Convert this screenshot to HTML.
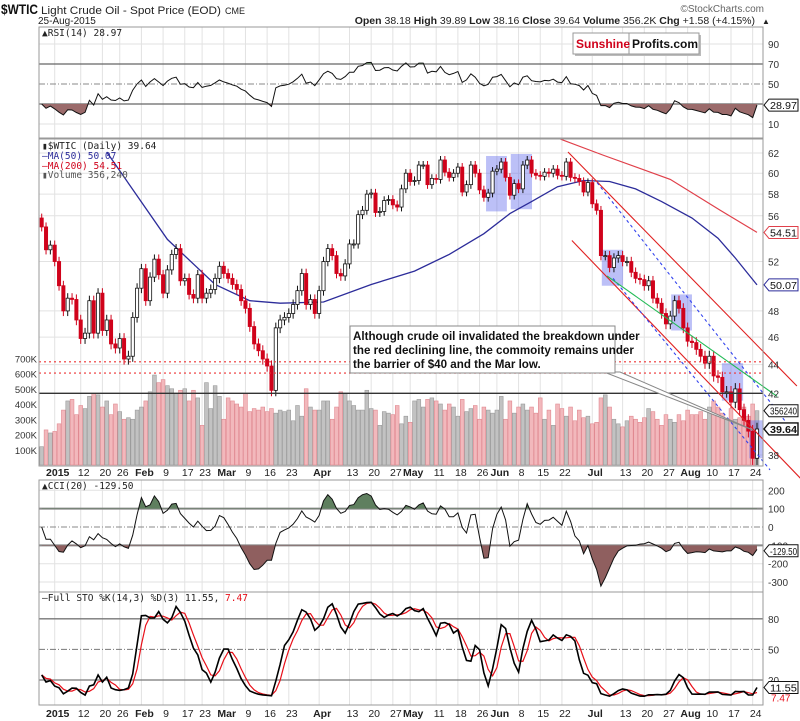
<!DOCTYPE html>
<html><head><meta charset="utf-8"><style>
html,body{margin:0;padding:0;background:#fff;}
svg{display:block;font-family:"Liberation Sans",sans-serif;}
.mono{font-family:"DejaVu Sans Mono","Liberation Mono",monospace;}
</style></head><body>
<svg id="chart" width="800" height="721" viewBox="0 0 800 721">
<defs>
<clipPath id="clipRsiLow"><rect x="39" y="104" width="724" height="34"/></clipPath>
<clipPath id="clipRsiHigh"><rect x="39" y="27" width="724" height="37"/></clipPath>
<clipPath id="clipPrice"><rect x="39" y="139" width="724" height="327"/></clipPath>
<clipPath id="clipCciHigh"><rect x="39" y="480" width="724" height="29"/></clipPath>
<clipPath id="clipCciLow"><rect x="39" y="545" width="724" height="47"/></clipPath>
</defs>
<g id="grid"></g>
<g id="vol" clip-path="url(#clipPrice)"></g>
<g id="price" clip-path="url(#clipPrice)"></g>
<g id="ann"></g>
<g id="ind"></g>
<g id="axes"></g>
<g id="hdr">
<text x="1" y="14" font-size="14" font-weight="bold" fill="#111" textLength="37" lengthAdjust="spacingAndGlyphs">$WTIC</text>
<text x="41" y="14" font-size="11" fill="#222" textLength="180" lengthAdjust="spacingAndGlyphs">Light Crude Oil - Spot Price (EOD)</text>
<text x="225" y="14" font-size="9" fill="#222">CME</text>
<text x="38" y="24" font-size="10" fill="#222">25-Aug-2015</text>
<text x="755" y="24" font-size="10.5" fill="#222" text-anchor="end"><tspan font-weight="bold">Open</tspan> 38.18 <tspan font-weight="bold">High</tspan> 39.89 <tspan font-weight="bold">Low</tspan> 38.16 <tspan font-weight="bold">Close</tspan> 39.64 <tspan font-weight="bold">Volume</tspan> 356.2K <tspan font-weight="bold">Chg</tspan> +1.58 (+4.15%)</text>
<text x="762" y="24" font-size="8" fill="#222">▲</text>
<text x="764" y="12" font-size="10" fill="#666" text-anchor="end">©StockCharts.com</text>
</g>
<g>
<rect x="575" y="35" width="126" height="21" fill="#bbb"/>
<rect x="573" y="33" width="126" height="21" fill="#fff" stroke="#999"/>
<line x1="629" y1="33" x2="629" y2="54" stroke="#999"/>
<text x="576" y="48" font-size="12" font-weight="bold" fill="#d0021b">Sunshine</text>
<text x="632" y="48" font-size="12" font-weight="bold" fill="#111">Profits.com</text>
</g>
</svg>
<script>
const closes=[55.0,53.0,53.4,52.0,50.0,48.0,49.0,48.9,47.3,45.9,46.3,48.8,46.3,49.4,46.5,47.3,45.5,45.2,45.9,44.4,44.6,47.5,49.8,51.4,48.8,50.7,52.2,50.9,49.4,51.3,52.6,53.1,50.4,50.6,49.3,49.0,50.9,49.0,49.4,49.7,50.6,51.6,51.0,50.6,50.1,49.7,48.8,48.2,46.8,45.5,45.0,44.4,43.9,42.2,46.7,47.3,47.5,47.8,
48.5,49.6,51.0,48.5,48.9,47.8,49.6,52.0,53.1,52.5,51.0,50.8,51.8,53.5,53.5,56.1,56.5,58.0,58.1,56.3,56.4,57.4,57.5,57.0,56.8,58.5,60.0,59.2,59.3,60.8,60.8,58.9,59.5,59.4,61.3,60.1,59.6,60.0,60.6,58.2,58.9,60.8,60.0,58.4,57.7,58.1,60.2,60.4,61.1,59.6,57.9,59.0,58.5,60.8,61.3,
60.0,59.8,59.7,60.1,60.0,60.4,59.8,59.7,61.1,59.6,59.5,59.2,58.2,59.1,57.1,56.5,52.5,52.5,51.5,52.3,52.5,52.0,52.0,51.1,50.6,50.5,50.0,50.4,49.0,48.6,47.8,47.0,47.6,48.8,48.2,46.7,45.7,45.6,45.1,44.6,44.1,44.6,43.2,43.1,42.1,42.1,41.4,42.3,40.9,40.2,39.5,37.8,39.64];
const volumesK=[120,230,210,220,270,360,420,430,330,390,370,450,470,460,380,420,330,400,350,300,310,300,360,
380,420,480,590,540,560,520,500,470,490,500,420,490,440,260,540,370,520,450,
300,440,420,400,380,470,350,370,360,380,350,370,340,360,350,360,290,390,320,500,380,360,
360,420,420,300,380,480,470,420,390,360,360,490,370,360,260,350,340,330,390,270,320,
280,420,430,380,430,440,420,400,360,400,380,320,430,350,370,390,300,380,360,340,
360,450,300,420,340,380,400,360,380,340,440,300,360,260,400,370,320,380,290,360,310,320,
270,280,440,460,380,300,270,250,290,320,300,280,310,370,350,300,260,330,300,280,330,290,
360,330,330,350,300,380,420,380,340,300,370,300,310,380,320,400,356];
const ma50Days=[15,29,40,48,55,65,76,86,94,102,108,113,119,125,131,137,143,150,156,160,165];
const ma50Vals=[62.1,53.9,50.1,48.8,48.6,48.7,50.1,51.2,52.6,54.4,56.2,57.3,58.7,59.3,59.2,58.5,57.3,55.8,54.0,52.3,50.07];
const ma200Days=[119.7,129.4,145,156.5,165];
const ma200Vals=[63.4,61.8,59.4,56.5,54.51];
const tickDates=['2015-01-02','2015-01-12','2015-01-20','2015-01-26','2015-02-02','2015-02-09','2015-02-17','2015-02-23','2015-03-02','2015-03-09','2015-03-16','2015-03-23','2015-04-01','2015-04-13','2015-04-20','2015-04-27','2015-05-01','2015-05-11','2015-05-18','2015-05-26','2015-06-01','2015-06-08','2015-06-15','2015-06-22','2015-07-01','2015-07-13','2015-07-20','2015-07-27','2015-08-03','2015-08-10','2015-08-17','2015-08-24'];
const tickLabels=['2015','12','20','26','Feb','9','17','23','Mar','9','16','23','Apr','13','20','27','May','11','18','26','Jun','8','15','22','Jul','13','20','27','Aug','10','17','24'];
const holidays=['2015-01-01','2015-01-19','2015-02-16','2015-04-03','2015-05-25','2015-07-03'];
const priceTicks=[62,60,58,56,52,48,46,44,42,38];
const volTicksK=[700,600,500,400,300,200,100];
const rsiTicks=[90,70,50,10];
const cciTicks=[200,100,0,-100,-200,-300];
const stoTicks=[80,50,20];
const highlightBoxes=[[102.5,107.3,61.7,56.4],[108.2,113.1,61.9,56.6],[129.2,134.1,53.0,50.0],[145.2,150.0,49.3,46.5],[156.9,161.8,44.1,41.5],[163.2,168.1,40.2,37.8]];
const trendRedUpper=[[121.4,62.1],[174.2,42.5]];
const trendRedLower=[[122.3,53.8],[175,36.6]];
const trendBlueUpper=[[128.1,59.1],[172.2,39.9]];
const trendBlueLower=[[131.8,50.6],[168.0,37.1]];
const trendGreen=[[130.4,50.8],[169.6,41.8]];
const supportLevels=[44.2,43.4];
const marchLow=42.0;

const NS='http://www.w3.org/2000/svg';
const N=closes.length;
const step=(757-41.7)/(N-1);
function xOf(i){return 41.7+i*step;}
function yP(p){return 153+Math.log(62/p)*617;}
function yV(k){return 465-k*0.1525;}
function yR(v){return 134-v;}
function yC(v){return 527-v*0.1835;}
function yS(v){return 680-(v-20)*1.02;}
function mk(tag,attrs,parent){const e=document.createElementNS(NS,tag);for(const k in attrs)e.setAttribute(k,attrs[k]);parent.appendChild(e);return e;}
const gGrid=document.getElementById('grid'),gVol=document.getElementById('vol'),gPrice=document.getElementById('price'),gAnn=document.getElementById('ann'),gInd=document.getElementById('ind'),gAxes=document.getElementById('axes');

const dates=[];
{let d=new Date(Date.UTC(2014,11,29));
while(dates.length<N){const s=d.toISOString().slice(0,10);const w=d.getUTCDay();if(w!==0&&w!==6&&holidays.indexOf(s)<0)dates.push(s);d=new Date(d.getTime()+86400000);}}
function idxOf(s){let i=dates.indexOf(s);if(i<0){i=dates.findIndex(x=>x>s);}return i;}

const panels=[[27,138],[139,466],[480,592],[592,705]];
panels.forEach(function(p){
  const r=mk('rect',{x:39,y:p[0],width:724,height:p[1]-p[0],fill:'none',stroke:'#999'},gAxes);
  
  
});
tickDates.forEach(function(d,k){
  const x=xOf(idxOf(d));
  panels.forEach(function(p){
    const l=mk('line',{x1:x,x2:x,y1:p[0],y2:p[1],stroke:'#e2e2e2'},gGrid);
    
    
  });
  [476,717].forEach(function(yy){
    const t=mk('text',{x:x+3,y:yy,'font-size':10.5,'text-anchor':'middle',fill:'#222','font-weight':(isNaN(+tickLabels[k])||tickLabels[k]==='2015')?'bold':'normal'},gAxes);
    t.textContent=tickLabels[k];
    
    
  });
});
priceTicks.forEach(function(p){
  const y=yP(p);
  const l=mk('line',{x1:39,x2:763,y1:y,y2:y,stroke:'#e2e2e2'},gGrid);
  
  
  const t=mk('text',{x:768,y:y+4,'font-size':10,fill:'#333'},gAxes);
  t.textContent=p;
  
  
});
volTicksK.forEach(function(v){
  const t=mk('text',{x:37,y:yV(v)+4,'font-size':9.5,'text-anchor':'end',fill:'#333'},gAxes);
  t.textContent=v+'K';
  
  
});
rsiTicks.concat([30]).forEach(function(v){
  const y=yR(v);
  const l=mk('line',{x1:39,x2:763,y1:y,y2:y,stroke:(v===70||v===30)?'#666':(v===50?'#888':'#e2e2e2'),'stroke-dasharray':v===50?'6,2,1,2':'none','stroke-width':(v===70||v===30)?1.2:1},gGrid);
  
  
  if(v!==30){const t=mk('text',{x:768,y:y+4,'font-size':10,fill:'#333'},gAxes);t.textContent=v;
  
  }
});
cciTicks.forEach(function(v){
  const y=yC(v);
  const strong=(v===100||v===-100);
  const l=mk('line',{x1:39,x2:763,y1:y,y2:y,stroke:strong?'#888':(v===0?'#888':'#e2e2e2'),'stroke-width':strong?2:1,'stroke-dasharray':v===0?'6,2,1,2':'none'},gGrid);
  
  
  const t=mk('text',{x:768,y:y+4,'font-size':10,fill:'#333'},gAxes);t.textContent=v;
  
  
});
stoTicks.forEach(function(v){
  const y=yS(v);
  const l=mk('line',{x1:39,x2:763,y1:y,y2:y,stroke:'#777','stroke-width':v===50?1:1.3,'stroke-dasharray':v===50?'6,2,1,2':'none'},gGrid);
  
  
  const t=mk('text',{x:768,y:y+4,'font-size':10,fill:'#333'},gAxes);t.textContent=v;
  
  
});

const opens=closes.map((c,i)=>i===0?55.8:closes[i-1]);
const highs=closes.map((c,i)=>Math.max(c,opens[i])+0.4);
const lows=closes.map((c,i)=>Math.min(c,opens[i])-0.4);

volumesK.forEach(function(v,i){
  const down=i>0&&closes[i]<closes[i-1];
  const b=mk('rect',{x:xOf(i)-1.9,y:yV(v),width:3.8,height:465-yV(v),fill:down?'#f2b8bc':'#c2c2c2',stroke:down?'#e08890':'#9a9a9a','stroke-width':0.6},gVol);
  
  
});
supportLevels.forEach(function(p){
  const l=mk('line',{x1:39,x2:763,y1:yP(p),y2:yP(p),stroke:'#e33','stroke-dasharray':'2,3','stroke-width':1.2},gAnn);
  
  
});
{const l=mk('line',{x1:39,x2:763,y1:yP(marchLow),y2:yP(marchLow),stroke:'#333','stroke-width':1.4},gAnn);

}

highlightBoxes.forEach(function(b){
  const r=mk('rect',{x:xOf(b[0]),y:yP(b[2]),width:xOf(b[1])-xOf(b[0]),height:yP(b[3])-yP(b[2]),fill:'rgba(95,105,235,0.42)'},gPrice);
  
  
});
function polyFrom(days,vals){return days.map((d,k)=>xOf(d).toFixed(1)+','+yP(vals[k]).toFixed(1)).join(' ');}
{const m=mk('polyline',{points:polyFrom(ma50Days,ma50Vals),fill:'none',stroke:'#2c2c9a','stroke-width':1.3},gPrice);


const m2=mk('polyline',{points:polyFrom(ma200Days,ma200Vals),fill:'none',stroke:'#e0404a','stroke-width':1.2},gPrice);

}
closes.forEach(function(c,i){
  const o=opens[i],x=xOf(i);
  const down=c<o;
  const col=down?'#d0021b':'#111';
  const w=mk('line',{x1:x,x2:x,y1:yP(highs[i]),y2:yP(lows[i]),stroke:col,'stroke-width':1},gPrice);
  
  
  const top=yP(Math.max(o,c)),bot=yP(Math.min(o,c));
  const b=mk('rect',{x:x-1.6,y:top,width:3.2,height:Math.max(1,bot-top),fill:down?'#d0021b':'#fff',stroke:col,'stroke-width':0.8},gPrice);
  
  
});
[[trendRedUpper,'#e02020','none','trend-line-upper'],[trendRedLower,'#e02020','none','trend-line-lower'],[trendBlueUpper,'#3344ee','3,3','trend-line-blue-upper'],[trendBlueLower,'#3344ee','3,3','trend-line-blue-lower'],[trendGreen,'#22bb55','none','trend-line-green']].forEach(function(t){
  const l=mk('line',{x1:xOf(t[0][0][0]),y1:yP(t[0][0][1]),x2:xOf(t[0][1][0]),y2:yP(t[0][1][1]),stroke:t[1],'stroke-dasharray':t[2],'stroke-width':1.1},gAnn);
  
  
});
{const pnt=mk('polygon',{points:'604,372 620,372 753,430',fill:'#fff',stroke:'#888','stroke-width':1},gAnn);


const box=mk('rect',{x:350,y:326,width:265,height:47,fill:'#fff',stroke:'#888'},gAnn);


const lines=['Although crude oil invalidated the breakdown under','the red declining line, the commoity remains under','the barrier of $40 and the Mar low.'];
lines.forEach(function(s,k){const t=mk('text',{x:353,y:340+k*14,'font-size':11.6,'font-weight':'bold',fill:'#111'},gAnn);t.textContent=s;

});}

const rsi=[];{let ag=0.3,al=0.7;for(let i=0;i<N;i++){const ch=i===0?0:closes[i]-closes[i-1];ag=(ag*13+Math.max(ch,0))/14;al=(al*13+Math.max(-ch,0))/14;rsi.push(100-100/(1+ag/al));}}
const cci=[];{const tp=closes.map((c,i)=>(highs[i]+lows[i]+c)/3);for(let i=0;i<N;i++){const s=Math.max(0,i-19);const win=tp.slice(s,i+1);const m=win.reduce((a,b)=>a+b,0)/win.length;const md=win.reduce((a,b)=>a+Math.abs(b-m),0)/win.length||1;cci.push(Math.max(-330,Math.min(260,(tp[i]-m)/(0.015*md))));}}
const fastK=[];for(let i=0;i<N;i++){const s=Math.max(0,i-13);const hh=Math.max.apply(null,highs.slice(s,i+1)),ll=Math.min.apply(null,lows.slice(s,i+1));fastK.push(hh===ll?50:(closes[i]-ll)/(hh-ll)*100);}
function sma3(a){return a.map((v,i)=>{const w=a.slice(Math.max(0,i-2),i+1);return w.reduce((x,y)=>x+y,0)/w.length;});}
const fullK=sma3(fastK),fullD=sma3(fullK);
function pts(arr,yf){return arr.map((v,i)=>xOf(i).toFixed(1)+','+yf(v).toFixed(1)).join(' ');}
function area(arr,yf,base){return xOf(0)+','+yf(base)+' '+pts(arr,yf)+' '+xOf(N-1)+','+yf(base);}
{let a=mk('polygon',{points:area(rsi,yR,30),fill:'#9b6b6b','clip-path':'url(#clipRsiLow)'},gInd);


a=mk('polygon',{points:area(rsi,yR,70),fill:'#6b8e6b','clip-path':'url(#clipRsiHigh)'},gInd);


let l=mk('polyline',{points:pts(rsi,yR),fill:'none',stroke:'#111','stroke-width':1},gInd);


a=mk('polygon',{points:area(cci,yC,100),fill:'#5f7f5f','clip-path':'url(#clipCciHigh)'},gInd);


a=mk('polygon',{points:area(cci,yC,-100),fill:'#8f5f5f','clip-path':'url(#clipCciLow)'},gInd);


l=mk('polyline',{points:pts(cci,yC),fill:'none',stroke:'#111','stroke-width':1},gInd);


l=mk('polyline',{points:pts(fullD,yS),fill:'none',stroke:'#e8101a','stroke-width':1.2},gInd);


l=mk('polyline',{points:pts(fullK,yS),fill:'none',stroke:'#000','stroke-width':1.6},gInd);

}

function tag(y,txt,col,bold,name){
  const g=mk('g',{},gAxes);
  
  
  const w=Math.min(29,txt.length*5.3+3);
  mk('polygon',{points:'764,'+y+' 769,'+(y-6)+' '+(769+w)+','+(y-6)+' '+(769+w)+','+(y+6)+' 769,'+(y+6),fill:'#fff',stroke:col,'stroke-width':bold?1.4:1},g);
  const t=mk('text',{x:770,y:y+4,'font-size':10,fill:'#111','font-weight':bold?'bold':'normal',textLength:w-2,lengthAdjust:'spacingAndGlyphs'},g);
  t.textContent=txt;
}
tag(yR(rsi[N-1]),'28.97','#111',false,'rsi-value-tag');
tag(yP(ma200Vals[ma200Vals.length-1]),'54.51','#e0404a',false,'ma200-value-tag');
tag(yP(ma50Vals[ma50Vals.length-1]),'50.07','#2c2c9a',false,'ma50-value-tag');
tag(yV(volumesK[N-1]),'356240','#111',false,'volume-value-tag');
tag(yP(closes[N-1]),'39.64','#111',true,'close-value-tag');
tag(yC(-129.5),'-129.50','#111',false,'cci-value-tag');
tag(yS(fullK[N-1]),'11.55','#111',false,'sto-k-value-tag');
{const t=mk('text',{x:771,y:yS(fullK[N-1])+14,'font-size':10,fill:'#e8101a'},gAxes);t.textContent='7.47';

}

function leg(x,y,html,name){const t=mk('text',{x:x,y:y,'font-size':9.5,fill:'#222','class':'mono'},gAxes);t.innerHTML=html;

}
leg(42,36,'▲RSI(14) 28.97','rsi-legend');
leg(42,149,'▮$WTIC (Daily) 39.64','price-legend');
leg(42,159,'<tspan fill="#2c2c9a">—MA(50) 50.07</tspan>','ma50-legend');
leg(42,169,'<tspan fill="#d0021b">—MA(200) 54.51</tspan>','ma200-legend');
leg(42,178,'<tspan fill="#555">▮Volume 356,240</tspan>','volume-legend');
leg(42,489,'▲CCI(20) -129.50','cci-legend');
leg(42,601,'—Full STO %K(14,3) %D(3) 11.55, <tspan fill="#e8101a">7.47</tspan>','sto-legend');
</script>
</body></html>
